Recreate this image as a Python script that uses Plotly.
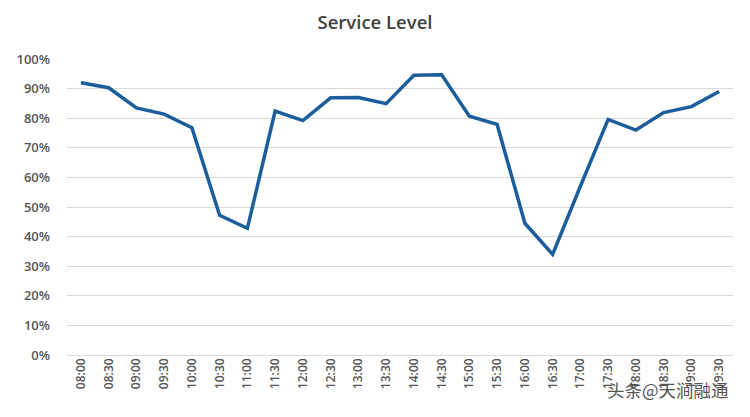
import plotly.graph_objects as go

times = ["08:00", "08:30", "09:00", "09:30", "10:00", "10:30", "11:00", "11:30",
         "12:00", "12:30", "13:00", "13:30", "14:00", "14:30", "15:00", "15:30",
         "16:00", "16:30", "17:00", "17:30", "18:00", "18:30", "19:00", "19:30"]
service_level = [0.920, 0.903, 0.835, 0.814, 0.768, 0.472, 0.428, 0.824,
                 0.792, 0.869, 0.870, 0.849, 0.945, 0.947, 0.807, 0.779,
                 0.445, 0.340, 0.570, 0.796, 0.760, 0.819, 0.839, 0.890]
y_ticks = [i / 10 for i in range(11)]

fig = go.Figure()
fig.add_trace(go.Scatter(
    x=times, y=service_level, mode="lines",
    line=dict(color="#1c5d9c", width=3.5),
    hoverinfo="skip", showlegend=False,
))

font_family = "Open Sans, Noto Sans, sans-serif"
fig.update_layout(
    width=750, height=417,
    margin=dict(l=67, r=17, t=59, b=62),
    paper_bgcolor="white", plot_bgcolor="white",
    title=dict(text="Service Level", x=0.5, xanchor="center", y=0.945, yanchor="middle",
               font=dict(family=font_family, size=18.5, color="#404040", weight=600)),
    xaxis=dict(type="category", tickangle=-90, showgrid=False, showline=False,
               ticks="", tickfont=dict(family=font_family, size=12, color="#555555", weight=600),
               range=[-0.5, len(times) - 0.5]),
    yaxis=dict(range=[0, 1], tickvals=y_ticks, tickformat=".0%",
               showgrid=True, gridcolor="#d9d9d9", gridwidth=1.3,
               zeroline=True, zerolinecolor="#d9d9d9", zerolinewidth=1.3,
               showline=False, ticks="", ticklabelstandoff=16,
               tickfont=dict(family=font_family, size=13, color="#555555", weight=600)),
)

fig.add_annotation(text="头条@天涧融通", xref="paper", yref="paper",
                   x=0.997, y=-0.115, xanchor="right", yanchor="middle", showarrow=False,
                   font=dict(family="Noto Sans CJK SC", size=17.5, color="#555555"))

fig.write_html("out.html")
